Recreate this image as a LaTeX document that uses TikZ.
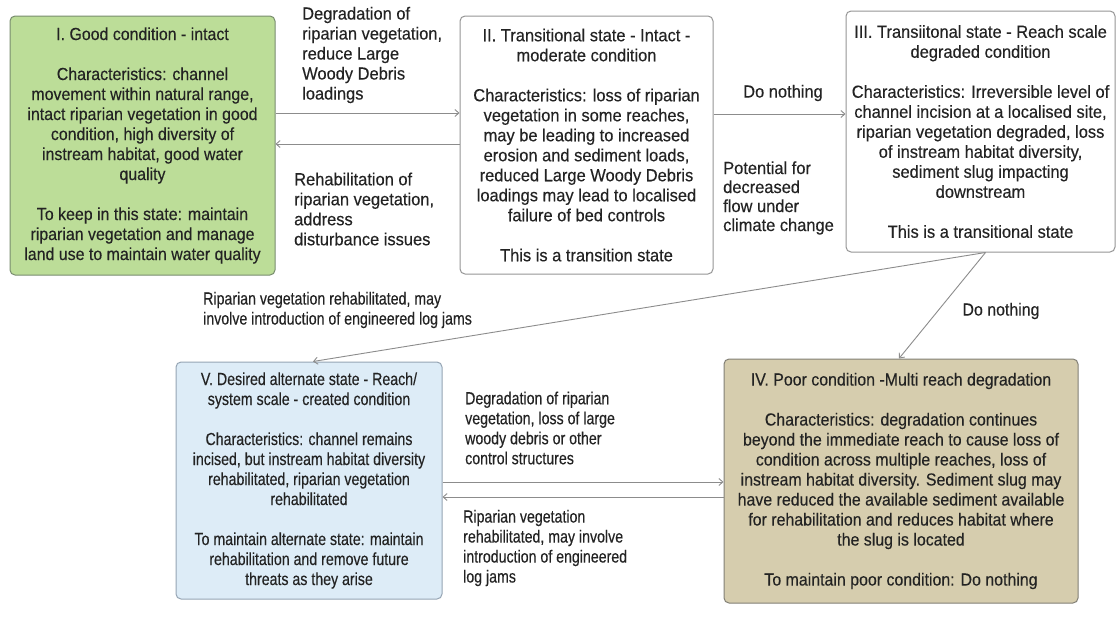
\documentclass[tikz,border=0pt]{standalone}
\usepackage{fontspec}
\setmainfont{Liberation Sans}[FakeStretch=0.94, FakeBold=0.3]
\newfontfamily\midfont{Liberation Sans}[FakeStretch=0.91, FakeBold=0.3]
\newfontfamily\narrowfont{Liberation Sans}[FakeStretch=0.81, FakeBold=0.3]
\usetikzlibrary{arrows.meta}

\definecolor{inkgrey}{RGB}{35,35,35}
\definecolor{edgegrey}{RGB}{150,150,150}
\definecolor{linegrey}{RGB}{140,140,140}
\definecolor{goodfill}{RGB}{188,221,152}
\definecolor{goodedge}{RGB}{120,140,110}
\definecolor{altfill}{RGB}{221,236,247}
\definecolor{altedge}{RGB}{150,165,180}
\definecolor{poorfill}{RGB}{214,205,174}
\definecolor{pooredge}{RGB}{130,128,118}

\tikzset{
  statebox/.style={draw=edgegrey, line width=1pt, rounded corners=5pt, fill=white,
    align=center, inner sep=0pt, text=inkgrey},
  edgelabel/.style={align=left, inner sep=0pt, text=inkgrey},
  flow/.style={draw=linegrey, line width=0.9pt, -{Straight Barb[length=4pt,width=7pt]}},
  midtext/.style={font=\fontsize{17.5}{20}\midfont},
  narrowtext/.style={font=\fontsize{17.5}{20}\narrowfont},
}

\begin{document}
\begin{tikzpicture}[x=1pt, y=-1pt, font=\fontsize{17.5}{20}\selectfont]
\useasboundingbox[fill=white] (0,0) rectangle (1118,627);

% ---- states -------------------------------------------------------
\node[statebox, midtext, fill=goodfill, draw=goodedge, minimum width=265pt, minimum height=259pt]
  (I) at (142.5,145.5)
  {I. Good condition - intact\\[20pt]
   Characteristics: channel\\
   movement within natural range,\\
   intact riparian vegetation in good\\
   condition, high diversity of\\
   instream habitat, good water\\
   quality\\[20pt]
   To keep in this state: maintain\\
   riparian vegetation and manage\\
   land use to maintain water quality};

\node[statebox, minimum width=253pt, minimum height=258pt]
  (II) at (586.5,145)
  {II. Transitional state - Intact -\\
   moderate condition\\[20pt]
   Characteristics: loss of riparian\\
   vegetation in some reaches,\\
   may be leading to increased\\
   erosion and sediment loads,\\
   reduced Large Woody Debris\\
   loadings may lead to localised\\
   failure of bed controls\\[20pt]
   This is a transition state};

\node[statebox, minimum width=269pt, minimum height=241pt]
  (III) at (980.5,131.5)
  {III. Transiitonal state - Reach scale\\
   degraded condition\\[20pt]
   Characteristics: Irreversible level of\\
   channel incision at a localised site,\\
   riparian vegetation degraded, loss\\
   of instream habitat diversity,\\
   sediment slug impacting\\
   downstream\\[20pt]
   This is a transitional state};

\node[statebox, narrowtext, fill=altfill, draw=altedge, minimum width=266pt, minimum height=237pt]
  (V) at (309,480.5)
  {V. Desired alternate state - Reach/\\
   system scale - created condition\\[20pt]
   Characteristics: channel remains\\
   incised, but instream habitat diversity\\
   rehabilitated, riparian vegetation\\
   rehabilitated\\[20pt]
   To maintain alternate state: maintain\\
   rehabilitation and remove future\\
   threats as they arise};

\node[statebox, midtext, fill=poorfill, draw=pooredge, minimum width=354pt, minimum height=244pt]
  (IV) at (901,481)
  {IV. Poor condition -Multi reach degradation\\[20pt]
   Characteristics: degradation continues\\
   beyond the immediate reach to cause loss of\\
   condition across multiple reaches, loss of\\
   instream habitat diversity. Sediment slug may\\
   have reduced the available sediment available\\
   for rehabilitation and reduces habitat where\\
   the slug is located\\[20pt]
   To maintain poor condition: Do nothing};

% ---- transitions --------------------------------------------------
\draw[flow] (I.east |- 0,113) -- (II.west |- 0,113);
\draw[flow] (II.west |- 0,144) -- (I.east |- 0,144);
\draw[flow] (II.east |- 0,114) -- (III.west |- 0,114);
\coordinate (fork) at ([xshift=5pt]III.south);
\draw[flow] (fork) -- ([xshift=4pt]V.north);
\draw[flow] (fork) -- ([xshift=-2pt]IV.north);
\draw[flow] (V.east |- 0,482) -- (IV.west |- 0,482);
\draw[flow] (IV.west |- 0,497) -- (V.east |- 0,497);

% ---- transition labels --------------------------------------------
\node[edgelabel, anchor=west] (degI) at (302,55)
  {Degradation of\\riparian vegetation,\\reduce Large\\Woody Debris\\loadings};
\node[edgelabel, anchor=west] (rehI) at (294,209)
  {Rehabilitation of\\riparian vegetation,\\address\\disturbance issues};
\node[edgelabel, anchor=center] (nothingA) at (783,93) {Do nothing};
\node[edgelabel, anchor=west, font=\fontsize{17.5}{19}\selectfont] (climate) at (723,198)
  {Potential for\\decreased\\flow under\\climate change};
\node[edgelabel, narrowtext, anchor=west] (rehV) at (203,310)
  {Riparian vegetation rehabilitated, may\\involve introduction of engineered log jams};
\node[edgelabel, midtext, anchor=center] (nothingB) at (1001,311) {Do nothing};
\node[edgelabel, narrowtext, anchor=west] (degV) at (465,428)
  {Degradation of riparian\\vegetation, loss of large\\woody debris or other\\control structures};
\node[edgelabel, narrowtext, anchor=west] (rehIV) at (463,548)
  {Riparian vegetation\\rehabilitated, may involve\\introduction of engineered\\log jams};
\end{tikzpicture}
\end{document}
